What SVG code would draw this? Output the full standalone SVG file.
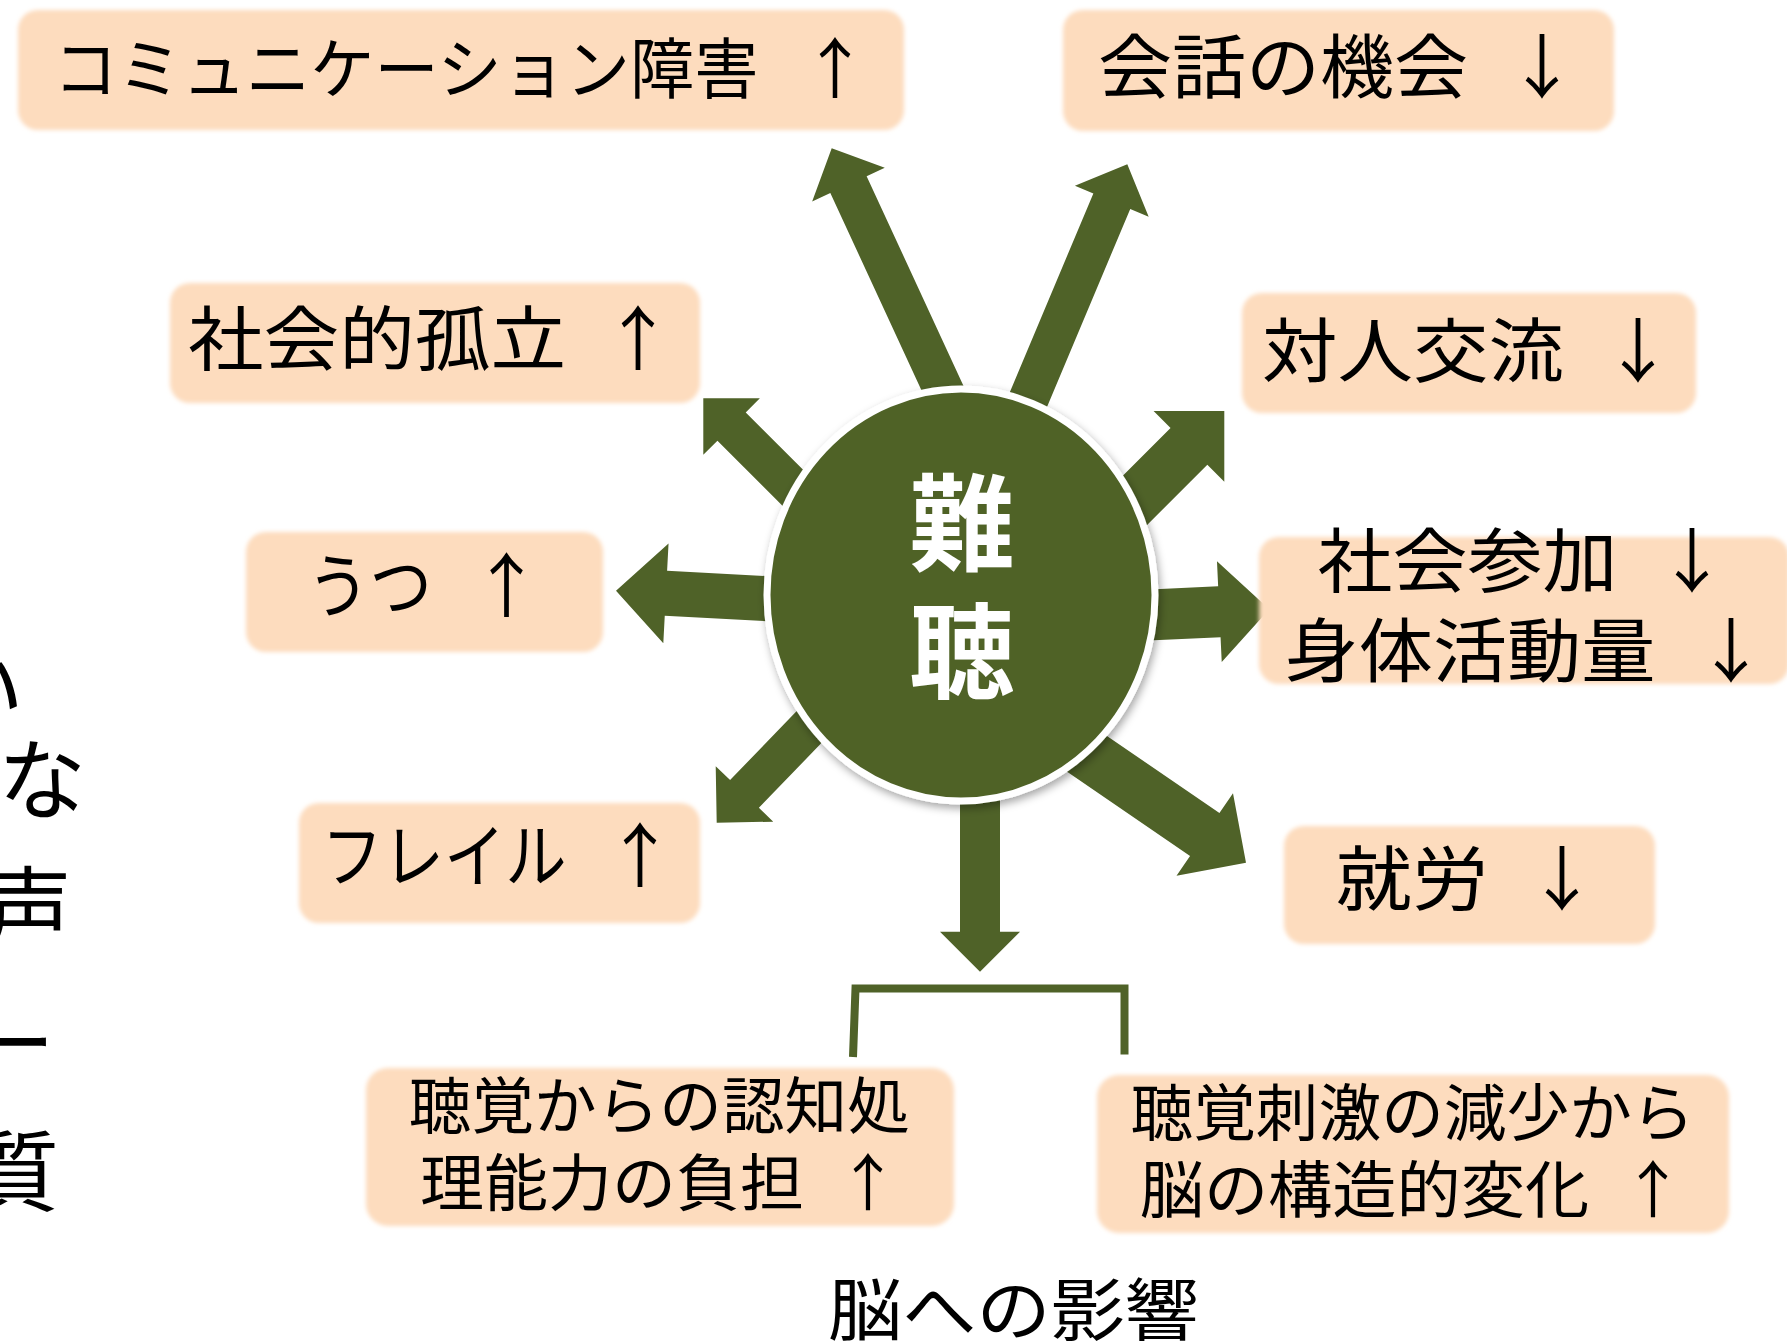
<svg xmlns="http://www.w3.org/2000/svg" width="1787" height="1344" viewBox="0 0 1787 1344">
  <defs>
    <filter id="soft" x="-5%" y="-10%" width="110%" height="120%">
      <feGaussianBlur stdDeviation="2.2"/>
    </filter>
    <filter id="shadow" x="-10%" y="-10%" width="125%" height="125%">
      <feDropShadow dx="2" dy="4" stdDeviation="4" flood-color="#000" flood-opacity="0.35"/>
    </filter>
  </defs>
  <style>
    .box { fill: #FDDCBE; filter: url(#soft); }
    .lbl { font-family: "Noto Sans CJK JP", "Noto Sans CJK SC", sans-serif; fill: #000; }
    .arr { fill: #4F6228; }
    .hub { font-family: "Noto Sans CJK JP", "Noto Sans CJK SC", sans-serif; font-weight: bold; fill: #fff; font-size: 105px; }
  </style>
  <rect width="1787" height="1344" fill="#fff"/>

  <g id="side-text" class="lbl" font-size="88">
    <text x="-64" y="721">い</text>
    <text x="-2" y="812">な</text>
    <text x="-16" y="940">声</text>
    <text x="-33" y="1075">ー</text>
    <text x="-29" y="1204">質</text>
  </g>

  <g id="connectors">
    <g transform="translate(831.7,148.3) rotate(245.2)"><polygon class="arr" points="0,0 -40,-40 -40,-20 -290,-20 -290,20 -40,20 -40,40"/></g>
    <g transform="translate(1127.3,164.3) rotate(-67.2)"><polygon class="arr" points="0,0 -40,-40 -40,-20 -280,-20 -280,20 -40,20 -40,40"/></g>
    <g transform="translate(703.3,398.3) rotate(225)"><polygon class="arr" points="0,0 -40,-40 -40,-20 -170,-20 -170,20 -40,20 -40,40"/></g>
    <g transform="translate(616,590.7) rotate(183)"><polygon class="arr" points="0,0 -50,-50 -50,-22.5 -190,-22.5 -190,22.5 -50,22.5 -50,50"/></g>
    <g transform="translate(716.7,822.7) rotate(134)"><polygon class="arr" points="0,0 -40,-40 -40,-20 -180,-20 -180,20 -40,20 -40,40"/></g>
    <g transform="translate(1224.3,411) rotate(-45)"><polygon class="arr" points="0,0 -50,-50 -50,-26 -190,-26 -190,26 -50,26 -50,50"/></g>
    <g transform="translate(1269.3,609.3) rotate(-2.7)"><polygon class="arr" points="0,0 -50,-50.5 -50,-25.5 -150,-25.5 -150,25.5 -50,25.5 -50,50.5"/></g>
    <g transform="translate(1246,862.7) rotate(34.4)"><polygon class="arr" points="0,0 -50,-50 -50,-26 -270,-26 -270,26 -50,26 -50,50"/></g>
    <g transform="translate(980,971.7) rotate(90)"><polygon class="arr" points="0,0 -40,-40 -40,-20 -270,-20 -270,20 -40,20 -40,40"/></g>
    <path d="M853,1057 L855.5,988.5 L1124.5,988.5 L1124.5,1054.5" fill="none" stroke="#4F6228" stroke-width="8"/>
  </g>

  <g id="hub">
    <ellipse cx="961" cy="595" rx="194" ry="206" fill="#4F6228" stroke="#fff" stroke-width="7" filter="url(#shadow)"/>
    <text class="hub" x="962" y="562" text-anchor="middle">難</text>
    <text class="hub" x="962" y="690" text-anchor="middle">聴</text>
  </g>

  <g id="node-communication">
    <rect class="box" x="18" y="10" width="886" height="120" rx="20"/>
    <text class="lbl" x="53.5" y="93" font-size="66" textLength="705" lengthAdjust="spacingAndGlyphs">コミュニケーション障害</text>
    <text class="lbl" x="835" y="93" font-size="66" text-anchor="middle">↑</text>
  </g>

  <g id="node-conversation">
    <rect class="box" x="1063" y="10" width="551" height="121" rx="20"/>
    <text class="lbl" x="1098" y="93" font-size="70" textLength="370" lengthAdjust="spacingAndGlyphs">会話の機会</text>
    <text class="lbl" x="1542" y="93" font-size="70" text-anchor="middle">↓</text>
  </g>

  <g id="node-isolation">
    <rect class="box" x="170" y="283" width="530" height="120" rx="20"/>
    <text class="lbl" x="188" y="365" font-size="70" textLength="378" lengthAdjust="spacingAndGlyphs">社会的孤立</text>
    <text class="lbl" x="638" y="365" font-size="70" text-anchor="middle">↑</text>
  </g>

  <g id="node-interpersonal">
    <rect class="box" x="1242" y="293" width="454" height="120" rx="20"/>
    <text class="lbl" x="1262" y="377" font-size="70" textLength="302" lengthAdjust="spacingAndGlyphs">対人交流</text>
    <text class="lbl" x="1638" y="377" font-size="70" text-anchor="middle">↓</text>
  </g>

  <g id="node-depression">
    <rect class="box" x="246" y="532" width="357" height="120" rx="20"/>
    <text class="lbl" x="307" y="612" font-size="70" textLength="125" lengthAdjust="spacingAndGlyphs">うつ</text>
    <text class="lbl" x="506.6" y="612" font-size="70" text-anchor="middle">↑</text>
  </g>

  <g id="node-participation">
    <rect class="box" x="1259" y="537" width="530" height="147" rx="20"/>
    <text class="lbl" x="1317.5" y="587" font-size="70" textLength="300" lengthAdjust="spacingAndGlyphs">社会参加</text>
    <text class="lbl" x="1692" y="587" font-size="70" text-anchor="middle">↓</text>
    <text class="lbl" x="1284.5" y="677" font-size="70" textLength="371" lengthAdjust="spacingAndGlyphs">身体活動量</text>
    <text class="lbl" x="1731" y="677" font-size="70" text-anchor="middle">↓</text>
  </g>

  <g id="node-frailty">
    <rect class="box" x="299" y="803" width="401" height="120" rx="20"/>
    <text class="lbl" x="321.5" y="882" font-size="70" textLength="245" lengthAdjust="spacingAndGlyphs">フレイル</text>
    <text class="lbl" x="640" y="882" font-size="70" text-anchor="middle">↑</text>
  </g>

  <g id="node-employment">
    <rect class="box" x="1284" y="826" width="371" height="118" rx="20"/>
    <text class="lbl" x="1335.5" y="905" font-size="70" textLength="153" lengthAdjust="spacingAndGlyphs">就労</text>
    <text class="lbl" x="1562" y="905" font-size="70" text-anchor="middle">↓</text>
  </g>

  <g id="node-cognitive-load">
    <rect class="box" x="366" y="1068" width="588" height="158" rx="22"/>
    <text class="lbl" x="408.8" y="1129" font-size="62" textLength="501" lengthAdjust="spacingAndGlyphs">聴覚からの認知処</text>
    <text class="lbl" x="420" y="1206" font-size="62" textLength="384" lengthAdjust="spacingAndGlyphs">理能力の負担</text>
    <text class="lbl" x="868" y="1206" font-size="62" text-anchor="middle">↑</text>
  </g>

  <g id="node-structural-change">
    <rect class="box" x="1097" y="1075" width="632" height="158" rx="22"/>
    <text class="lbl" x="1130.5" y="1136" font-size="62" textLength="564" lengthAdjust="spacingAndGlyphs">聴覚刺激の減少から</text>
    <text class="lbl" x="1139.7" y="1213" font-size="62" textLength="449.5" lengthAdjust="spacingAndGlyphs">脳の構造的変化</text>
    <text class="lbl" x="1653" y="1213" font-size="62" text-anchor="middle">↑</text>
  </g>

  <g id="caption-brain">
    <text class="lbl" x="828" y="1335" font-size="68" textLength="371" lengthAdjust="spacingAndGlyphs">脳への影響</text>
  </g>
</svg>
